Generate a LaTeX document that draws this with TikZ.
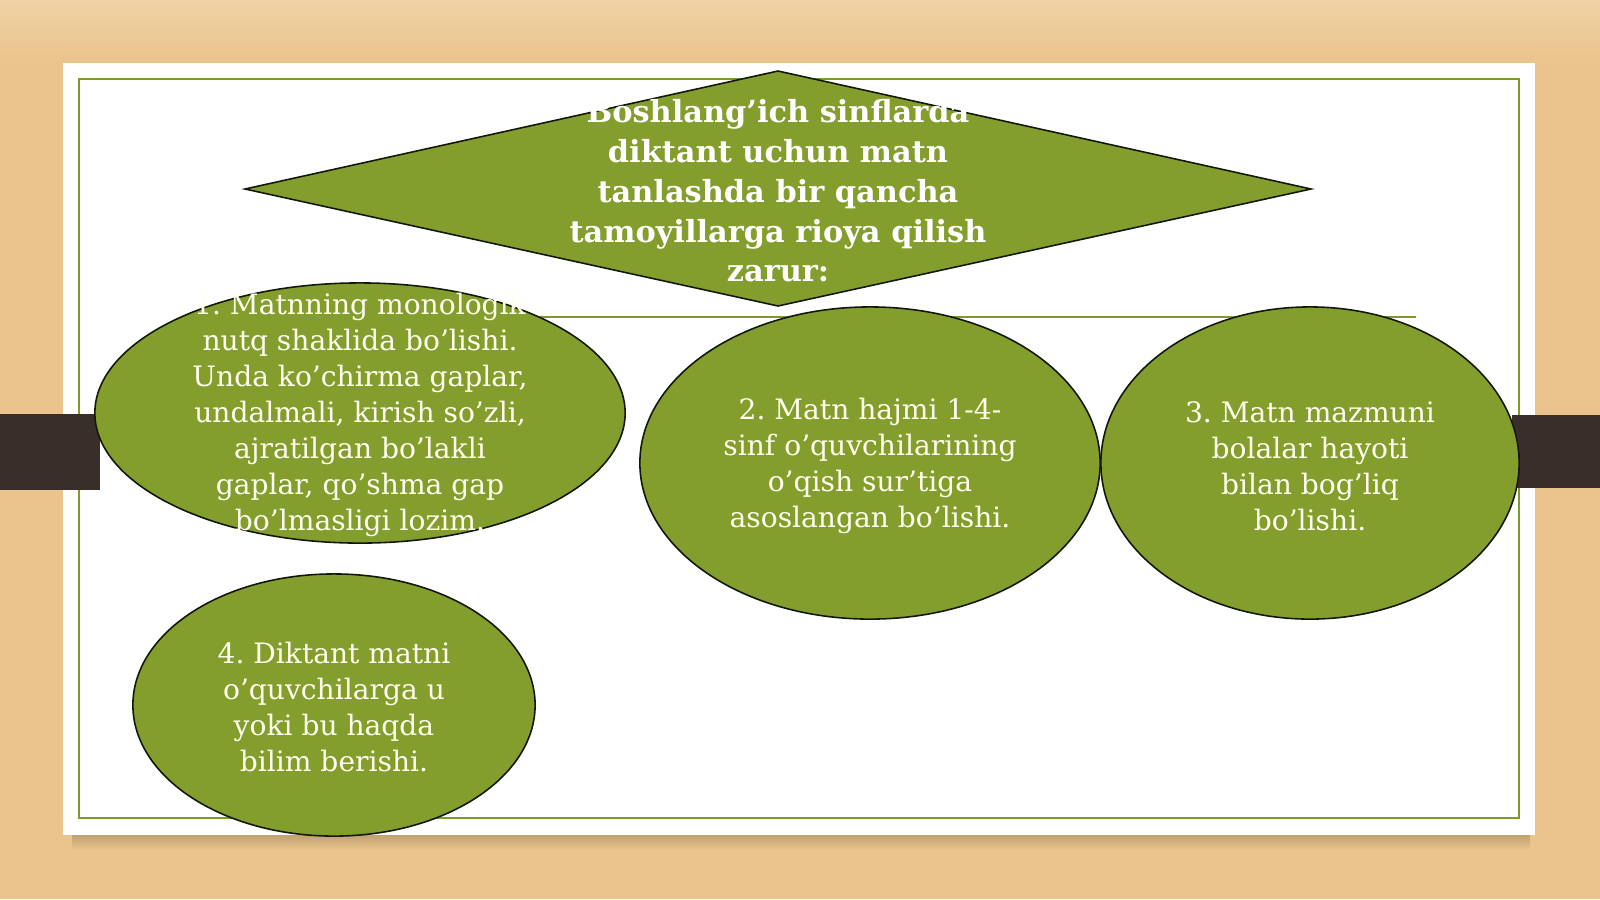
\documentclass[tikz,border=0pt]{standalone}
\usepackage{fontspec}
\setmainfont{DejaVu Serif}
\frenchspacing
\usetikzlibrary{shapes.geometric}
\definecolor{wood}{RGB}{234,196,140}
\definecolor{woodtop}{RGB}{240,210,166}
\definecolor{olive}{RGB}{128,153,42}
\definecolor{olivefill}{RGB}{132,158,46}
\definecolor{bar}{RGB}{58,46,42}
\definecolor{txt}{RGB}{255,255,238}
\tikzset{
  oval/.style={ellipse, draw=black!85!olive, line width=0.45pt, fill=olivefill, inner sep=0pt},
  ovaltxt/.style={text=txt, align=center, inner sep=0pt, font=\fontsize{8.0pt}{10.2pt}\selectfont},
  headtxt/.style={text=white, align=center, inner sep=0pt, font=\fontsize{8.65pt}{11.3pt}\selectfont\bfseries},
}
\begin{document}
\begin{tikzpicture}[x=0.01cm,y=-0.01cm]
\useasboundingbox (0,0) rectangle (1600,899);
% background
\shade[top color=woodtop, bottom color=wood] (0,0) rectangle (1600,60);
\fill[wood] (0,60) rectangle (1600,899);
% panel shadow
\foreach \d in {2,4,...,14}{
  \fill[black!70!wood,opacity=0.035] (72,825) rectangle (1530,835+\d);
}
% panel
\fill[white] (63,63) rectangle (1535,835);
\draw[olive, line width=0.8pt] (79,79) rectangle (1519,818);
% bars
\fill[bar] (0,414) rectangle (100,490);
\fill[bar] (1512,415) rectangle (1600,488);
% diamond
\coordinate (dl) at (245,189);
\coordinate (dt) at (778,71);
\coordinate (dr) at (1311,189);
\coordinate (db) at (778,306);
\draw[fill=olivefill, draw=black!85!olive, line width=0.45pt] (dl) -- (dt) -- (dr) -- (db) -- cycle;
\node[headtxt] (head) at (778,191) {Boshlang’ich sinflarda\\diktant uchun matn\\tanlashda bir qancha\\tamoyillarga rioya qilish\\zarur:};
% line
\coordinate (la) at (500,317);
\coordinate (lb) at (1416,317);
\draw[olive, line width=0.6pt] (la) -- (lb);
% ellipses
\node[oval, minimum width=5.30cm, minimum height=2.60cm] (e1) at (360,413) {};
\node[ovaltxt] (t1) at (360,415)
 {1. Matnning monologik\\nutq shaklida bo’lishi.\\Unda ko’chirma gaplar,\\undalmali, kirish so’zli,\\ajratilgan bo’lakli\\gaplar, qo’shma gap\\bo’lmasligi lozim.};
\node[oval, minimum width=4.60cm, minimum height=3.12cm] (e2) at (870,463) {};
\node[ovaltxt] (t2) at (870,466)
 {2. Matn hajmi 1-4-\\sinf o’quvchilarining\\o’qish sur’tiga\\asoslangan bo’lishi.};
\node[oval, minimum width=4.18cm, minimum height=3.12cm] (e3) at (1310,463) {};
\node[ovaltxt] (t3) at (1310,466)
 {3. Matn mazmuni\\bolalar hayoti\\bilan bog’liq\\bo’lishi.};
\node[oval, minimum width=4.02cm, minimum height=2.62cm] (e4) at (334,705) {};
\node[ovaltxt] (t4) at (334,707)
 {4. Diktant matni\\o’quvchilarga u\\yoki bu haqda\\bilim berishi.};
\end{tikzpicture}
\end{document}
